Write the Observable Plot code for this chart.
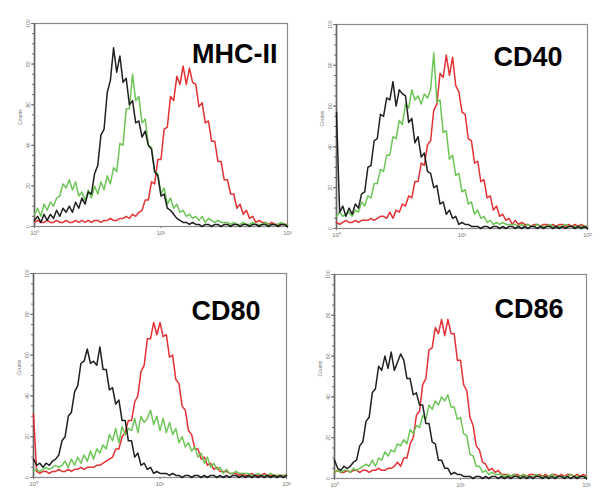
<!DOCTYPE html>
<html>
<head>
<meta charset="utf-8">
<script src="https://cdn.jsdelivr.net/npm/d3@7"></script>
<script src="https://cdn.jsdelivr.net/npm/@observablehq/plot@0.6"></script>
<style>
  html, body { margin: 0; padding: 0; background: #fff; }
  #chart { position: relative; width: 613px; height: 500px; background: #fff; overflow: hidden; }
  #chart .panel { position: absolute; }
</style>
</head>
<body>
<div id="chart"></div>
<script>
// Fluorescence channel (log scale, bin centres) shared by every histogram
const channel = [
  1.000, 1.059, 1.122, 1.189, 1.259, 1.334, 1.413, 1.496, 1.585, 1.679,
  1.778, 1.884, 1.995, 2.113, 2.239, 2.371, 2.512, 2.661, 2.818, 2.985,
  3.162, 3.350, 3.548, 3.758, 3.981, 4.217, 4.467, 4.732, 5.012, 5.309,
  5.623, 5.957, 6.310, 6.683, 7.079, 7.499, 7.943, 8.414, 8.913, 9.441,
  10.00, 10.59, 11.22, 11.89, 12.59, 13.34, 14.13, 14.96, 15.85, 16.79,
  17.78, 18.84, 19.95, 21.13, 22.39, 23.71, 25.12, 26.61, 28.18, 29.85,
  31.62, 33.50, 35.48, 37.58, 39.81, 42.17, 44.67, 47.32, 50.12, 53.09,
  56.23, 59.57, 63.10, 66.83, 70.79, 74.99, 79.43, 84.14, 89.13, 94.41, 100.0
];

// MHC-II counts
const mhcBlack = [
  3,5,2,6,3,6,4,8,5,9, 7,10,7,12,9,14,11,17,16,26, 30,45,48,66,72,88,76,84,71,73,
  60,62,51,52,44,47,40,38,27,25, 15,16,9,8,6,4,3,2,2,1, 2,1,1,0,1,1,0,1,1,0,
  1,1,0,1,1,0,1,1,0,1, 1,0,1,1,0,1,1,0,1,1,0
];
const mhcGreen = [
  6,9,5,11,8,12,10,14,15,21, 19,23,18,22,15,17,13,18,14,20, 16,22,18,25,21,29,27,41,40,58,
  58,75,62,64,51,53,40,39,27,26, 16,19,11,14,9,11,7,8,5,6, 4,5,3,5,2,4,3,2,3,2,
  2,2,1,2,1,1,2,1,1,2, 1,1,1,2,1,1,1,1,2,1,1
];
const mhcRed = [
  2,3,2,2,3,2,2,3,2,2, 3,2,2,3,2,3,2,3,2,3, 3,2,3,3,4,3,3,4,4,5,
  4,6,5,7,8,13,13,22,21,33, 33,48,49,64,62,74,70,79,70,78, 71,70,59,61,51,52,42,42,32,32,
  23,23,16,16,9,11,6,8,4,5, 2,3,2,2,1,2,1,1,1,1,1
];

// CD40 counts
const cd40Black = [
  57,8,11,6,10,7,12,10,17,18, 30,31,43,44,56,55,64,63,72,60, 68,66,65,52,54,42,45,35,37,28,
  27,20,21,12,13,7,9,5,6,2, 3,2,2,1,1,1,0,1,1,0, 1,1,0,1,0,1,1,0,1,0,
  1,0,1,1,0,1,0,1,1,0, 1,0,1,0,1,1,0,1,0,1,0
];
const cd40Green = [
  6,8,6,7,8,6,9,8,13,11, 16,15,22,22,29,28,36,36,45,44, 53,51,61,59,68,63,65,61,66,64,
  68,86,62,63,47,48,34,36,26,27, 18,19,12,13,7,9,5,6,3,4, 2,3,2,3,2,2,2,2,1,2,
  1,2,1,1,2,1,1,1,2,1, 1,1,1,2,1,1,1,1,1,1,1
];
const cd40Red = [
  3,2,3,4,3,3,4,3,4,4, 4,5,4,5,6,6,5,8,5,9, 8,12,11,16,15,23,23,32,31,41,
  43,58,61,76,74,85,75,84,70,67, 57,56,44,43,32,33,23,24,15,16, 9,11,6,7,4,5,2,4,2,3,
  2,2,1,2,2,1,2,2,1,2, 1,2,2,1,2,1,2,1,2,1,1
];

// CD80 counts
const cd80Black = [
  9,6,7,5,7,6,8,9,11,18, 20,30,32,42,45,56,57,63,56,57, 55,64,53,53,43,44,36,38,28,28,
  18,18,10,12,6,7,4,5,2,3, 2,2,2,1,2,1,1,0,1,1, 0,1,1,0,1,0,1,1,0,1,
  0,1,0,1,1,0,1,0,1,0, 1,0,1,0,1,0,1,0,1,0,1
];
const cd80Green = [
  3,4,3,4,5,4,5,6,5,6, 8,5,9,6,10,7,11,8,13,9, 14,12,16,14,21,18,24,17,25,21,
  24,23,29,22,30,27,29,33,26,30, 23,29,22,27,21,24,17,20,15,17, 13,15,10,12,7,10,5,7,4,5,
  2,4,2,2,3,2,2,2,2,1, 1,2,1,1,1,2,1,1,1,1,1
];
const cd80Red = [
  31,3,2,3,3,2,3,3,4,3, 3,4,3,4,4,5,4,5,5,5, 6,6,7,8,9,10,14,14,20,22,
  28,28,37,40,52,55,68,68,76,70, 76,69,70,59,60,48,46,35,33,23, 21,14,14,9,10,6,7,4,5,3,
  3,3,2,2,2,1,2,1,1,2, 1,1,1,2,1,1,1,1,1,1,1
];

// CD86 counts
const cd86Black = [
  9,5,4,6,5,6,8,9,16,18, 28,30,42,44,55,53,60,54,62,53, 57,61,58,49,49,41,42,36,36,27,
  27,18,17,9,9,5,5,2,3,2, 2,1,1,1,0,1,1,0,1,0, 1,1,0,1,0,1,0,1,1,0,
  1,0,1,0,1,1,0,1,0,1, 0,1,1,0,1,0,1,0,1,1,0
];
const cd86Green = [
  3,4,3,4,4,3,5,4,5,6, 7,6,9,6,10,9,13,11,14,13, 17,16,19,17,24,22,26,25,31,29,
  36,34,38,36,40,38,41,35,35,29, 30,22,21,12,11,6,6,3,4,2, 3,2,2,2,1,2,1,2,1,1,
  2,1,1,1,2,1,1,1,1,2, 1,1,1,1,1,2,1,1,1,1,1
];
const cd86Red = [
  3,4,3,3,4,3,4,4,3,4, 4,3,4,4,5,4,4,5,5,6, 8,6,10,10,17,20,31,33,46,49,
  63,64,74,71,78,70,78,71,71,58, 58,46,43,30,26,16,14,8,7,4, 5,3,4,2,2,2,1,2,2,1,
  2,1,2,2,1,2,1,2,1,2, 2,1,2,1,2,2,1,2,1,2,1
];

const panelTitles = ["MHC-II", "CD40", "CD80", "CD86"];
const xTicks = [1, 10, 100];
const xTickLabels = ["10\u2070", "10\u00B9", "10\u00B2"];
const yTicks = [0, 20, 40, 60, 80, 100];
const yMinorTicks = [0,5,10,15,20,25,30,35,40,45,50,55,60,65,70,75,80,85,90,95,100];
const yLabel = "Counts";

const seriesColor = { red: "#e2262a", green: "#66c24e", black: "#141414" };

const panelSeries = [
  { red: mhcRed, green: mhcGreen, black: mhcBlack },
  { red: cd40Red, green: cd40Green, black: cd40Black },
  { red: cd80Red, green: cd80Green, black: cd80Black },
  { red: cd86Red, green: cd86Green, black: cd86Black }
];

// Layout of each panel on the page
const layout = [
  { left: 0,   top: 0,   width: 306, mL: 34, mR: 19, mT: 23, mB: 24, tdx: -10, tdy: 20 },
  { left: 300, top: 0,   width: 313, mL: 36, mR: 26, mT: 24, mB: 22, tdx: -25, tdy: 22 },
  { left: 0,   top: 250, width: 306, mL: 33, mR: 20, mT: 23, mB: 23, tdx: -26, tdy: 27 },
  { left: 300, top: 250, width: 313, mL: 34, mR: 27, mT: 24, mB: 22, tdx: -23, tdy: 24 }
];

const root = document.getElementById("chart");

panelSeries.forEach((series, p) => {
  const L = layout[p];
  const rows = [];
  for (const key of ["red", "green", "black"]) {
    series[key].forEach((v, i) => rows.push({ s: key, x: channel[i], y: v }));
  }
  const lineMarks = ["red", "green", "black"].map(key =>
    Plot.lineY(rows.filter(d => d.s === key), {
      x: "x", y: "y", stroke: seriesColor[key], strokeWidth: 1.5, strokeOpacity: 0.95
    })
  );
  const svg = Plot.plot({
    width: L.width,
    height: 250,
    marginLeft: L.mL,
    marginRight: L.mR,
    marginTop: L.mT,
    marginBottom: L.mB,
    style: { background: "transparent", overflow: "visible", fontFamily: "Liberation Sans, Arial, sans-serif" },
    x: { type: "log", domain: [1, 100] },
    y: { domain: [0, 100] },
    marks: [
      Plot.frame({ stroke: "#8a8a8a", strokeWidth: 1.2 }),
      Plot.axisY({ ticks: yMinorTicks, tickSize: 2, text: null, label: null, stroke: "#777" }),
      Plot.axisY({ ticks: yTicks, tickSize: 3, tickRotate: -90, fontSize: 5, color: "#777", label: null, tickPadding: 2 }),
      Plot.axisX({ ticks: xTicks, tickFormat: (d) => xTickLabels[xTicks.indexOf(d)], tickSize: 2, fontSize: 6, color: "#777", label: null, tickPadding: 2 }),
      Plot.ruleX([1], { stroke: "#666", strokeWidth: 1.6 }),
      ...lineMarks,
      Plot.text([yLabel], { frameAnchor: "left", dx: -14, rotate: -90, fontSize: 5, fill: "#777" }),
      Plot.text([panelTitles[p]], {
        frameAnchor: "top-right", dx: L.tdx, dy: L.tdy, fontSize: 27, fontWeight: "bold",
        fill: "#000", fontFamily: "Liberation Sans, Arial, sans-serif", lineAnchor: "top"
      })
    ]
  });
  svg.classList.add("panel");
  svg.style.left = L.left + "px";
  svg.style.top = L.top + "px";
  root.appendChild(svg);
});
</script>
</body>
</html>
